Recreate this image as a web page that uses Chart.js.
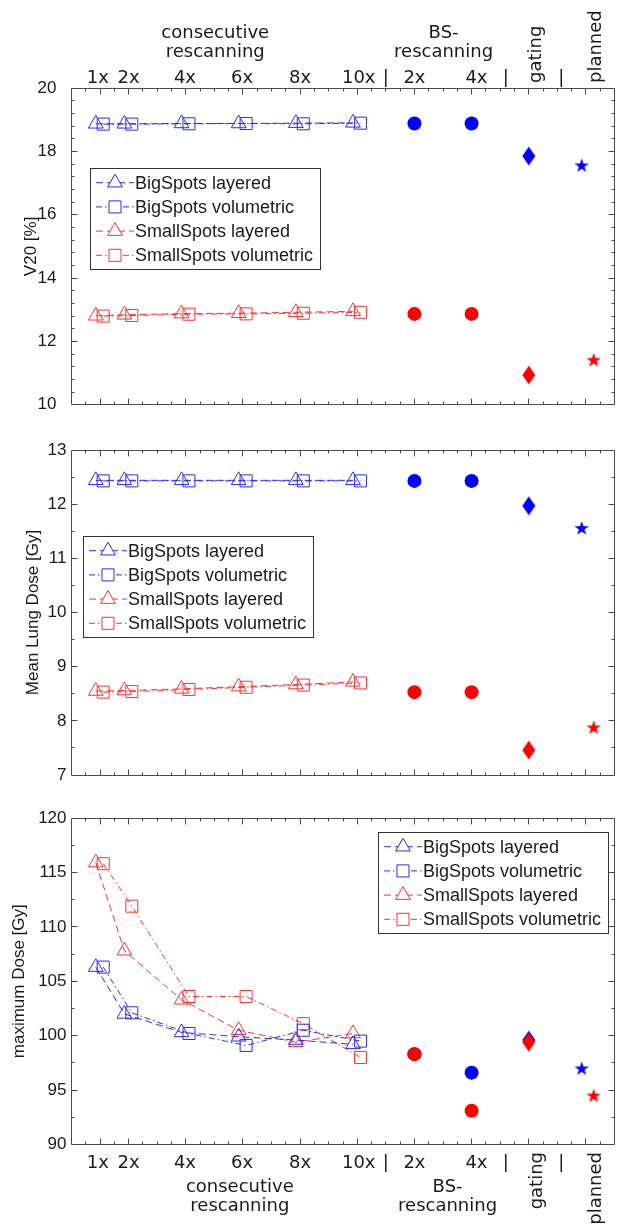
<!DOCTYPE html>
<html lang="en">
<head>
<meta charset="UTF-8" />
<title>V20, mean lung dose and maximum dose per rescanning scheme</title>
<script src="https://cdn.jsdelivr.net/npm/chart.js"></script>
<style>
  body { margin: 0; background: #fff; }
  #wrap { position: relative; width: 624px; height: 1224px; }
  canvas { position: absolute; left: 0; }
</style>
</head>
<body>
<div id="wrap">
  <canvas id="v20" width="624" height="430" style="top:0"></canvas>
  <canvas id="mld" width="624" height="370" style="top:430px"></canvas>
  <canvas id="dmax" width="624" height="424" style="top:800px"></canvas>
</div>

<script>
  // x layout: consecutive rescanning at 1..10, BS-rescanning 2x/4x at 12/14, gating 16, planned 18
  const rescanX = [1, 2, 4, 6, 8, 10];
  const bsX = [12, 14];
  const gatingX = 16;
  const plannedX = [17.85, 18.27];   // BigSpots star, SmallSpots star

  const tickLabels = ['1x', '2x', '4x', '6x', '8x', '10x', '|', '2x', '4x', '|', '|'];
  const tickLabelX = [0.92, 2, 3.97, 5.97, 8, 10.05, 11, 12, 14.17, 15.2, 17.14];
  const groupLabels = [['consecutive', 'rescanning'], ['BS-', 'rescanning']];
  const rotLabels = ['gating', 'planned'];

  const seriesNames = ['BigSpots layered', 'BigSpots volumetric', 'SmallSpots layered', 'SmallSpots volumetric'];

  // V20 [%]
  const v20BigLayered = [18.87, 18.87, 18.88, 18.88, 18.89, 18.9];
  const v20BigVolumetric = [18.86, 18.86, 18.87, 18.88, 18.87, 18.89];
  const v20SmallLayered = [12.81, 12.84, 12.88, 12.89, 12.92, 12.95];
  const v20SmallVolumetric = [12.8, 12.82, 12.86, 12.87, 12.89, 12.92];
  const v20BsBig = [18.88, 18.88];
  const v20BsSmall = [12.87, 12.87];
  const v20Gating = [17.85, 10.94];   // big, small
  const v20Planned = [17.56, 11.42];

  // Mean lung dose [Gy]
  const mldBigLayered = [12.44, 12.44, 12.44, 12.44, 12.44, 12.44];
  const mldBigVolumetric = [12.43, 12.43, 12.43, 12.43, 12.43, 12.43];
  const mldSmallLayered = [8.55, 8.56, 8.59, 8.63, 8.67, 8.72];
  const mldSmallVolumetric = [8.53, 8.54, 8.58, 8.62, 8.66, 8.7];
  const mldBsBig = [12.43, 12.43];
  const mldBsSmall = [8.53, 8.53];
  const mldGating = [11.97, 7.46];
  const mldPlanned = [11.56, 7.88];

  // maximum dose [Gy]
  const dmaxBigLayered = [106.3, 102.0, 100.3, 99.9, 99.6, 99.2];
  const dmaxBigVolumetric = [106.3, 102.1, 100.2, 99.1, 100.5, 99.5];
  const dmaxSmallLayered = [115.9, 107.8, 103.3, 100.5, 99.4, 100.2];
  const dmaxSmallVolumetric = [115.8, 111.9, 103.6, 103.6, 101.1, 98.0];
  const dmaxBsBig = [98.3, 96.6];
  const dmaxBsSmall = [98.3, 93.1];
  const dmaxGating = [99.6, 99.4];
  const dmaxPlanned = [97.0, 94.5];

  const BLUE = '#0000ff', RED = '#ff0000';
  const BLUE_LINE = '#2a2aff', RED_LINE = '#ff3030';
  const DASH_LAYERED = [7, 4];
  const DASH_VOLUMETRIC = [6, 3, 1.5, 3];
  const TRI_OFF = -0.15, SQ_OFF = 0.11;
  const TXT = '#1a1a1a';
  const AXIS = '#4a4a4a';

  // filled markers that Chart.js has no style for
  function diamondImg(color) {
    const c = document.createElement('canvas');
    c.width = 14; c.height = 20;
    const g = c.getContext('2d');
    g.fillStyle = color;
    g.beginPath();
    g.moveTo(7, 0.5); g.lineTo(13.5, 10); g.lineTo(7, 19.5); g.lineTo(0.5, 10);
    g.closePath(); g.fill();
    return c;
  }
  function starImg(color) {
    const c = document.createElement('canvas');
    c.width = 16; c.height = 16;
    const g = c.getContext('2d');
    g.fillStyle = color;
    g.beginPath();
    for (let i = 0; i < 10; i++) {
      const r = i % 2 ? 3 : 7.6;
      const a = -Math.PI / 2 + i * Math.PI / 5;
      g.lineTo(8 + r * Math.cos(a), 8.6 + r * Math.sin(a));
    }
    g.closePath(); g.fill();
    return c;
  }
  const diamonds = [diamondImg(BLUE), diamondImg(RED)];
  const stars = [starImg(BLUE), starImg(RED)];

  function lineSet(label, ys, color, dash, style, off) {
    return {
      label: label,
      showLine: true,
      data: rescanX.map((v, i) => ({ x: v + off, y: ys[i] })),
      borderColor: color,
      borderWidth: 1,
      borderDash: dash,
      pointStyle: style,
      pointRadius: 8.5,
      pointBorderColor: color,
      pointBorderWidth: 1,
      pointBackgroundColor: 'rgba(0,0,0,0)',
      fill: false,
      tension: 0,
      order: 5
    };
  }
  function markSet(xs, ys, color, style, r, order) {
    return {
      showLine: false,
      data: xs.map((v, i) => ({ x: v, y: ys[i] })),
      pointStyle: style,
      pointRadius: r,
      pointBackgroundColor: color,
      pointBorderColor: color,
      pointBorderWidth: 0,
      order: order
    };
  }
  function panelSets(bl, bv, sl, sv, bsB, bsS, gating, planned) {
    return [
      lineSet(seriesNames[0], bl, BLUE_LINE, DASH_LAYERED, 'triangle', TRI_OFF),
      lineSet(seriesNames[1], bv, BLUE_LINE, DASH_VOLUMETRIC, 'rect', SQ_OFF),
      lineSet(seriesNames[2], sl, RED_LINE, DASH_LAYERED, 'triangle', TRI_OFF),
      lineSet(seriesNames[3], sv, RED_LINE, DASH_VOLUMETRIC, 'rect', SQ_OFF),
      markSet(bsX, bsB, BLUE, 'circle', 7, 2),
      markSet(bsX, bsS, RED, 'circle', 7, 1),
      markSet([gatingX], [gating[0]], BLUE, diamonds[0], 7, 2),
      markSet([gatingX], [gating[1]], RED, diamonds[1], 7, 1),
      markSet([plannedX[0]], [planned[0]], BLUE, stars[0], 7, 2),
      markSet([plannedX[1]], [planned[1]], RED, stars[1], 7, 1)
    ];
  }

  const crisp = v => Math.floor(v) + 0.5;

  // box, inward ticks on all sides, x labels and legend
  const framePlugin = {
    id: 'frame',
    afterDraw(chart, args, o) {
      const { ctx, chartArea: a, scales: { x, y } } = chart;
      const L = crisp(a.left), R = crisp(a.right), T = crisp(a.top), B = crisp(a.bottom);
      ctx.save();
      ctx.strokeStyle = AXIS;
      ctx.lineWidth = 1;
      ctx.setLineDash([]);
      ctx.beginPath();
      ctx.rect(L, T, R - L, B - T);
      const major = [1, 2, 4, 6, 8, 10, 12, 14, 16, 18];
      for (let v = 0.5; v < 19; v += 0.5) {
        const px = crisp(x.getPixelForValue(v));
        const len = major.includes(v) ? 6 : 3;
        ctx.moveTo(px, B); ctx.lineTo(px, B - len);
        ctx.moveTo(px, T); ctx.lineTo(px, T + len);
      }
      const n = Math.round((y.max - y.min) / o.yMinor);
      for (let i = 1; i < n; i++) {
        const v = y.min + i * o.yMinor;
        const py = crisp(y.getPixelForValue(v));
        const isMajor = Math.abs((v - y.min) / o.yStep - Math.round((v - y.min) / o.yStep)) < 1e-6;
        const len = isMajor ? 6 : 3;
        ctx.moveTo(L, py); ctx.lineTo(L + len, py);
        ctx.moveTo(R, py); ctx.lineTo(R - len, py);
      }
      ctx.stroke();

      // x labels
      if (o.xLabels) {
        const top = o.xLabels === 'top';
        ctx.fillStyle = TXT;
        ctx.font = '18px "DejaVu Sans"';
        ctx.textAlign = 'center';
        ctx.textBaseline = 'alphabetic';
        const tb = top ? a.top - 5 : a.bottom + 23.5;
        tickLabels.forEach((t, i) => ctx.fillText(t, x.getPixelForValue(tickLabelX[i]), tb));
        const rows = top ? [a.top - 50.5, a.top - 31] : [a.bottom + 47, a.bottom + 66];
        groupLabels.forEach((g, i) => {
          g.forEach((t, j) => ctx.fillText(t, x.getPixelForValue(o.groupX[i]), rows[j]));
        });
        rotLabels.forEach((t, i) => {
          ctx.save();
          ctx.translate(x.getPixelForValue(o.rotX[i]), top ? a.top - 5 : a.bottom + 7.5);
          ctx.rotate(-Math.PI / 2);
          ctx.textAlign = top ? 'left' : 'right';
          ctx.textBaseline = 'middle';
          ctx.fillText(t, 0, 0);
          ctx.restore();
        });
      }

      // legend
      const lg = o.legend;
      ctx.fillStyle = '#fff';
      ctx.fillRect(lg.x, lg.y, 230, 101);
      ctx.strokeStyle = '#333';
      ctx.strokeRect(crisp(lg.x), crisp(lg.y), 230, 101);
      chart.data.datasets.slice(0, 4).forEach((ds, i) => {
        const cy = lg.y + 14.7 + i * 24.2;
        const cx = lg.x + 25;
        ctx.strokeStyle = ds.borderColor;
        ctx.setLineDash(ds.borderDash);
        ctx.beginPath();
        ctx.moveTo(lg.x + 6, cy); ctx.lineTo(lg.x + 44, cy);
        ctx.stroke();
        ctx.setLineDash([]);
        ctx.fillStyle = '#fff';
        ctx.beginPath();
        const r = 8.5;
        if (ds.pointStyle === 'triangle') {
          ctx.moveTo(cx, cy - r);
          ctx.lineTo(cx + 0.866 * r, cy + 0.5 * r);
          ctx.lineTo(cx - 0.866 * r, cy + 0.5 * r);
          ctx.closePath();
        } else {
          const s = r * Math.SQRT1_2;
          ctx.rect(cx - s, cy - s, 2 * s, 2 * s);
        }
        ctx.fill();
        ctx.stroke();
        ctx.fillStyle = TXT;
        ctx.font = '18px "Liberation Sans"';
        ctx.textAlign = 'left';
        ctx.textBaseline = 'middle';
        ctx.fillText(ds.label, lg.x + 45, cy + 1);
      });
      ctx.restore();
    }
  };

  function makePanel(id, cfg) {
    new Chart(document.getElementById(id), {
      type: 'scatter',
      data: { datasets: cfg.datasets },
      plugins: [framePlugin],
      options: {
        responsive: false,
        animation: false,
        events: [],
        layout: { padding: cfg.padding },
        scales: {
          x: { type: 'linear', min: 0, max: 19, display: false },
          y: {
            min: cfg.min,
            max: cfg.max,
            ticks: {
              stepSize: cfg.step,
              padding: cfg.tickPad,
              color: TXT,
              font: { family: 'Liberation Sans', size: 17 }
            },
            grid: { display: false, drawTicks: false },
            border: { display: false },
            title: {
              display: true,
              text: cfg.title,
              color: TXT,
              font: { family: 'Liberation Sans', size: 17 },
              padding: { top: cfg.titlePad, bottom: 0 }
            },
            afterFit: s => { s.width = 71.5; }
          }
        },
        plugins: {
          legend: { display: false },
          tooltip: { enabled: false },
          frame: {
            yStep: cfg.step,
            yMinor: cfg.minor,
            xLabels: cfg.xLabels,
            groupX: cfg.groupX,
            rotX: cfg.rotX,
            legend: cfg.legend
          }
        }
      }
    });
  }

  makePanel('v20', {
    datasets: panelSets(v20BigLayered, v20BigVolumetric, v20SmallLayered, v20SmallVolumetric,
      v20BsBig, v20BsSmall, v20Gating, v20Planned),
    min: 10, max: 20, step: 2, minor: 0.4,
    title: 'V20 [%]', titlePad: 21, tickPad: 15,
    padding: { top: 88, bottom: 19, left: 0, right: 1.5 },
    xLabels: 'top', groupX: [5.03, 13.02], rotX: [16.25, 18.35],
    legend: { x: 90, y: 168 }
  });

  makePanel('mld', {
    datasets: panelSets(mldBigLayered, mldBigVolumetric, mldSmallLayered, mldSmallVolumetric,
      mldBsBig, mldBsSmall, mldGating, mldPlanned),
    min: 7, max: 13, step: 1, minor: 0.5,
    title: 'Mean Lung Dose [Gy]', titlePad: 23, tickPad: 5,
    padding: { top: 20, bottom: 25, left: 0, right: 1.5 },
    xLabels: null,
    legend: { x: 83, y: 106 }
  });

  makePanel('dmax', {
    datasets: panelSets(dmaxBigLayered, dmaxBigVolumetric, dmaxSmallLayered, dmaxSmallVolumetric,
      dmaxBsBig, dmaxBsSmall, dmaxGating, dmaxPlanned),
    min: 90, max: 120, step: 5, minor: 2.5,
    title: 'maximum Dose [Gy]', titlePad: 9, tickPad: 5,
    padding: { top: 18, bottom: 79.5, left: 0, right: 1.5 },
    xLabels: 'bottom', groupX: [5.89, 13.16], rotX: [16.3, 18.37],
    legend: { x: 378, y: 32 }
  });
</script>
</body>
</html>
